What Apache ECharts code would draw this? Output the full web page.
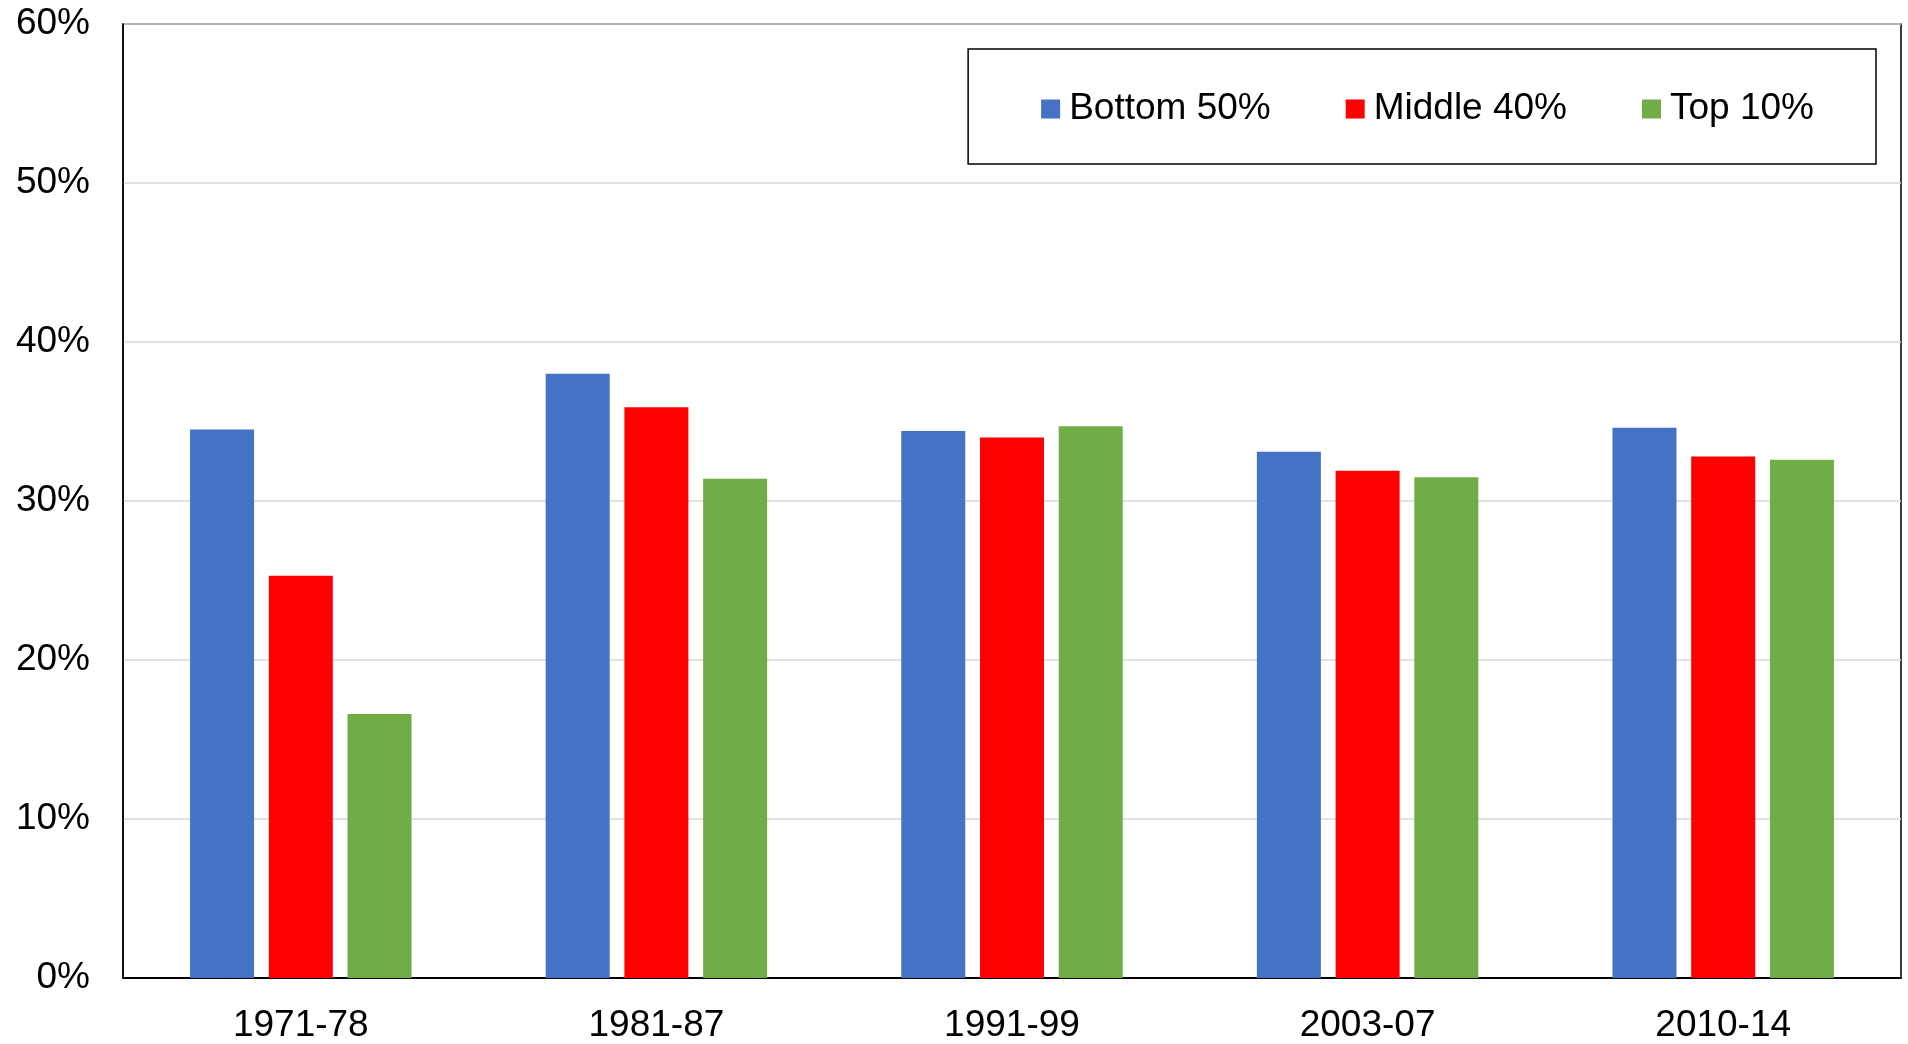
<!DOCTYPE html>
<html>
<head>
<meta charset="utf-8">
<script src="https://cdn.jsdelivr.net/npm/echarts@6/dist/echarts.min.js"></script>
<style>
  html, body { margin: 0; padding: 0; background: #fff; }
  #chart { width: 1908px; height: 1044px; }
</style>
</head>
<body>
<div id="chart"></div>
<script>
    // periods on the x axis
    var periods = ['1971-78', '1981-87', '1991-99', '2003-07', '2010-14']
    // share values, in percent
    var bottom50 = [34.5, 38.0, 34.4, 33.1, 34.6]
    var middle40 = [25.3, 35.9, 34.0, 31.9, 32.8]
    var top10 = [16.6, 31.4, 34.7, 31.5, 32.6]
    var seriesNames = ['Bottom 50%', 'Middle 40%', 'Top 10%']
    var colors = ['#4472C4', '#FF0000', '#70AD47']

    var font = 'Liberation Sans, Arial, sans-serif'
    var chart = echarts.init(document.getElementById('chart'))

    chart.setOption({
        animation: false,
        color: colors,
        grid: {
            left: 123, right: 7, top: 24, bottom: 64,
            show: true,
            borderColor: '#000',
            borderWidth: 1.5
        },
        legend: {
            data: seriesNames,
            right: 32,
            top: 49,
            padding: [40, 62, 35, 73],
            borderColor: '#000',
            borderWidth: 1.5,
            itemWidth: 19,
            itemHeight: 19,
            itemGap: 75,
            icon: 'rect',
            textStyle: {
                fontSize: 37,
                color: '#000',
                fontFamily: font,
                padding: [0, 0, 0, 4],
                lineHeight: 40
            }
        },
        xAxis: {
            type: 'category',
            data: periods,
            axisTick: { show: false },
            axisLine: { lineStyle: { color: '#000', width: 2 } },
            axisLabel: {
                fontSize: 37,
                color: '#000',
                fontFamily: font,
                margin: 29
            }
        },
        yAxis: {
            type: 'value',
            min: 0,
            max: 60,
            interval: 10,
            axisLine: { show: true, lineStyle: { color: '#000', width: 1.5 } },
            axisTick: { show: false },
            splitLine: { lineStyle: { color: '#d9d9d9', width: 1.5 } },
            axisLabel: {
                formatter: '{value}%',
                fontSize: 37,
                color: '#000',
                fontFamily: font,
                margin: 33,
                lineHeight: 37,
                padding: [9, 0, 0, 0]
            }
        },
        series: [
            { name: seriesNames[0], type: 'bar', data: bottom50, barWidth: '18%', barGap: '23%' },
            { name: seriesNames[1], type: 'bar', data: middle40, barWidth: '18%', barGap: '23%' },
            { name: seriesNames[2], type: 'bar', data: top10, barWidth: '18%', barGap: '23%' }
        ]
    })
</script>
</body>
</html>
